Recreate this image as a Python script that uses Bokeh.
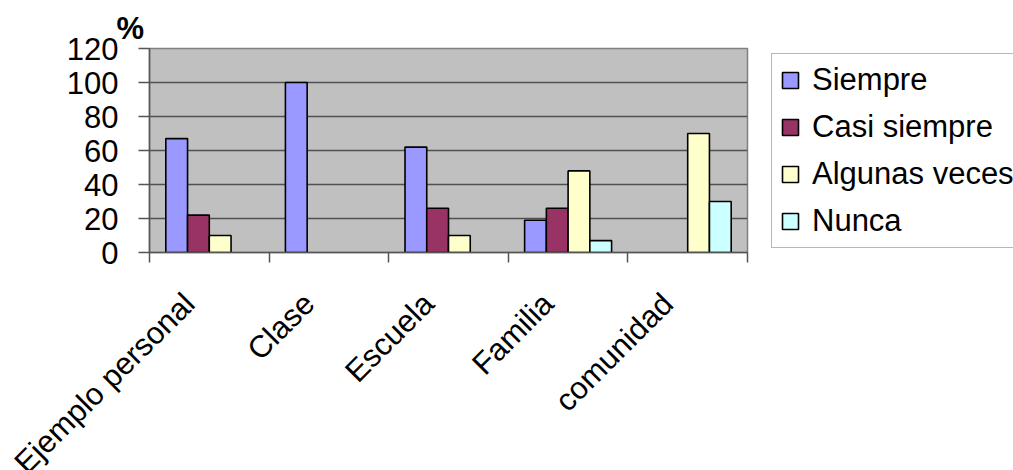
import math
from bokeh.plotting import figure
from bokeh.models import (ColumnDataSource, FixedTicker, Legend, LegendItem, Title,
                          Range1d)
from bokeh.embed import file_html
from bokeh.resources import INLINE

categories = ["Ejemplo personal", "Clase", "Escuela", "Familia", "comunidad"]
series_names = ["Siempre", "Casi siempre", "Algunas veces", "Nunca"]
siempre = [67, 100, 62, 19, 0]
casi_siempre = [22, 0, 26, 26, 0]
algunas_veces = [10, 0, 10, 48, 70]
nunca = [0, 0, 0, 7, 30]
y_ticks = [0, 20, 40, 60, 80, 100, 120]
y_title = "%"

series_values = [siempre, casi_siempre, algunas_veces, nunca]
colors = ["#9999FF", "#993366", "#FFFFCC", "#CCFFFF"]

FONT = "Liberation Sans"
FS = "31px"
FRAME_W = 598

p = figure(frame_width=FRAME_W, frame_height=204, output_backend="svg",
           toolbar_location=None, x_range=Range1d(0, len(categories)),
           y_range=Range1d(0, 120),
           min_border_left=149, min_border_top=48, min_border_right=266,
           min_border_bottom=218)
p.background_fill_color = "#C0C0C0"
p.border_fill_color = "white"
p.outline_line_color = "#808080"
p.outline_line_width = 1.5

n = len(series_names)
w = 1.0 / (n + 1.5)
renderers = []
for k, (name, vals, col) in enumerate(zip(series_names, series_values, colors)):
    xs = [i + 0.5 + (k - (n - 1) / 2) * w for i, v in enumerate(vals) if v > 0]
    ys = [v for v in vals if v > 0]
    src = ColumnDataSource(dict(x=xs, top=ys))
    r = p.vbar(x="x", top="top", width=w, bottom=0, source=src,
               fill_color=col, line_color="black", line_width=1.6)
    renderers.append((name, r))

# grid
p.xgrid.visible = False
p.ygrid.ticker = FixedTicker(ticks=y_ticks)
p.ygrid.grid_line_color = "#505050"
p.ygrid.grid_line_width = 1.5

# y axis
p.yaxis.ticker = FixedTicker(ticks=y_ticks)
p.yaxis.axis_line_color = "#555555"
p.yaxis.axis_line_width = 1.5
p.yaxis.major_tick_line_color = "#555555"
p.yaxis.major_tick_line_width = 1.5
p.yaxis.major_tick_out = 11
p.yaxis.major_tick_in = 0
p.yaxis.minor_tick_line_color = None
p.yaxis.major_label_standoff = 20
p.yaxis.major_label_text_font = FONT
p.yaxis.major_label_text_font_size = FS
p.yaxis.major_label_text_color = "black"

# x axis: rotated labels ending just left of each category centre,
# tick marks at the category boundaries
label_shift = 20 * len(categories) / FRAME_W   # 20 px to the left, in data units
label_pos = [i + 0.5 - label_shift for i in range(len(categories))]
bounds = [i for i in range(len(categories) + 1)]
p.xaxis.ticker = FixedTicker(ticks=label_pos, minor_ticks=bounds)
p.xaxis.major_label_overrides = {t: name for t, name in zip(label_pos, categories)}
p.xaxis.axis_line_color = "#555555"
p.xaxis.axis_line_width = 1.5
p.xaxis.major_tick_line_color = None
p.xaxis.major_tick_out = 0
p.xaxis.major_tick_in = 0
p.xaxis.minor_tick_line_color = "#555555"
p.xaxis.minor_tick_line_width = 1.5
p.xaxis.minor_tick_out = 10
p.xaxis.minor_tick_in = 0
p.xaxis.major_label_orientation = math.pi / 4
p.xaxis.major_label_standoff = 36
p.xaxis.major_label_text_font = FONT
p.xaxis.major_label_text_font_size = FS
p.xaxis.major_label_text_color = "black"

p.add_layout(Title(text=y_title, align="left", offset=-33, standoff=5,
                   text_font=FONT, text_font_size=FS, text_font_style="bold",
                   text_color="black"), "above")

legend = Legend(items=[LegendItem(label=nm, renderers=[r]) for nm, r in renderers],
                location=(24, 4), orientation="vertical",
                label_text_font=FONT, label_text_font_size=FS,
                label_text_color="black", glyph_width=20, glyph_height=20,
                label_height=20, label_width=215, label_standoff=12, spacing=11,
                padding=8, margin=0, border_line_color="#707070",
                border_line_width=1.5, background_fill_color="white",
                background_fill_alpha=1.0)
p.add_layout(legend, "right")

html = file_html(p, INLINE)
html = html.replace("</head>", "<style>html, body { margin: 0; overflow: hidden; }</style></head>", 1)
open("out.html", "w").write(html)
